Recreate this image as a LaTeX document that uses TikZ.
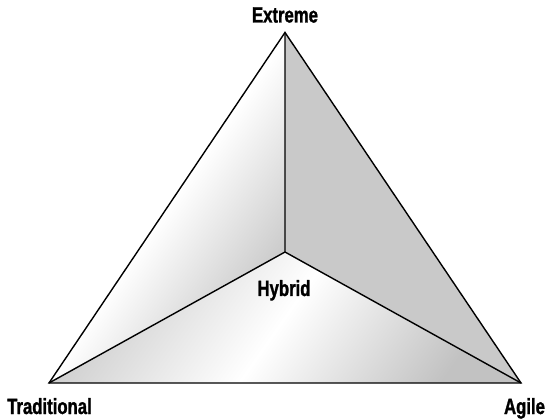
\documentclass[tikz,border=0pt]{standalone}
\usepackage{fontspec}
\setmainfont{Liberation Sans}[FakeStretch=0.78]
\newfontfamily\lblfont{Liberation Sans Bold}[FakeStretch=0.76,FakeBold=1.2]
\begin{document}
\begin{tikzpicture}[x=1pt,y=-1pt,
  edge/.style={draw=black,line width=1.4pt,line join=miter},
  faceshade/.style={left color=black!20,right color=black!24,middle color=white,shading angle=55},
  solidface/.style={fill=black!21},
  lbl/.style={font=\fontsize{22}{24}\lblfont,inner sep=0pt}]
\useasboundingbox (0,0) rectangle (551,419);
\coordinate (E) at (285,32.5);
\coordinate (T) at (49,383);
\coordinate (A) at (521,383);
\coordinate (H) at (285,252);
\shade[faceshade] (E) -- (H) -- (T) -- cycle;
\shade[faceshade] (T) -- (H) -- (A) -- cycle;
\fill[solidface] (E) -- (A) -- (H) -- cycle;
\draw[edge] (E) -- (T) -- (A) -- cycle;
\draw[edge] (E) -- (H) (T) -- (H) -- (A);
\node[lbl,anchor=base] (ext) at (285,22.5) {Extreme};
\node[lbl,anchor=base west] (tra) at (7,414) {Traditional};
\node[lbl,anchor=base] (agi) at (524.5,414) {Agile};
\node[lbl,anchor=base] (hyb) at (284,296) {Hybrid};
\end{tikzpicture}
\end{document}
